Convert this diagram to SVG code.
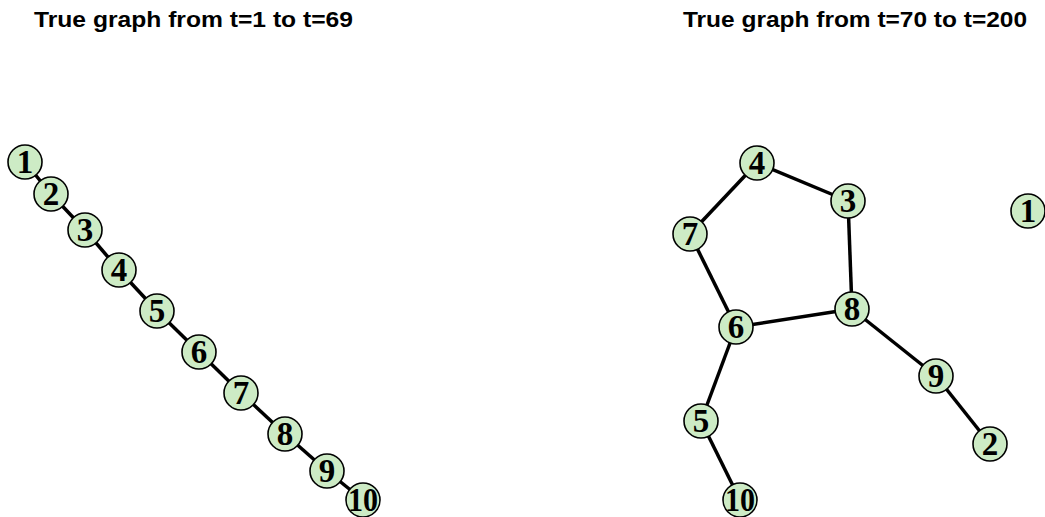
<svg xmlns="http://www.w3.org/2000/svg" width="1045" height="517" viewBox="0 0 1045 517">
<style>
.title{font-family:"Liberation Sans",Arial,sans-serif;font-weight:bold;font-size:22px;fill:#000}
.node circle{fill:#cdebc5;stroke:#000;stroke-width:1.6}
.node text{font-family:"Liberation Serif","Times New Roman",serif;font-weight:bold;font-size:33px;fill:#000;text-anchor:middle}
.edges line{stroke:#000;stroke-width:3.5}
</style>
<rect width="1045" height="517" fill="#fff"/>
<text class="title" x="34" y="27" textLength="319" lengthAdjust="spacingAndGlyphs">True graph from t=1 to t=69</text>
<text class="title" x="683" y="27" textLength="344" lengthAdjust="spacingAndGlyphs">True graph from t=70 to t=200</text>
<g class="edges" id="edges-left">
<line x1="25" y1="162" x2="51" y2="194"/>
<line x1="51" y1="194" x2="85" y2="230"/>
<line x1="85" y1="230" x2="119" y2="270"/>
<line x1="119" y1="270" x2="157" y2="311"/>
<line x1="157" y1="311" x2="199" y2="352"/>
<line x1="199" y1="352" x2="241" y2="393"/>
<line x1="241" y1="393" x2="285" y2="434"/>
<line x1="285" y1="434" x2="327" y2="471"/>
<line x1="327" y1="471" x2="363" y2="500"/>
</g>
<g class="edges" id="edges-right">
<line x1="757" y1="163" x2="848" y2="201"/>
<line x1="757" y1="163" x2="690" y2="234"/>
<line x1="690" y1="234" x2="736" y2="327"/>
<line x1="848" y1="201" x2="852" y2="309"/>
<line x1="736" y1="327" x2="852" y2="309"/>
<line x1="736" y1="327" x2="701" y2="421"/>
<line x1="701" y1="421" x2="740" y2="500"/>
<line x1="852" y1="309" x2="936" y2="376"/>
<line x1="936" y1="376" x2="990" y2="444"/>
</g>
<g class="node" id="L1"><circle cx="25" cy="162" r="17"/><text x="25" y="173">1</text></g>
<g class="node" id="L2"><circle cx="51" cy="194" r="17"/><text x="51" y="205">2</text></g>
<g class="node" id="L3"><circle cx="85" cy="230" r="17"/><text x="85" y="241">3</text></g>
<g class="node" id="L4"><circle cx="119" cy="270" r="17"/><text x="119" y="281">4</text></g>
<g class="node" id="L5"><circle cx="157" cy="311" r="17"/><text x="157" y="322">5</text></g>
<g class="node" id="L6"><circle cx="199" cy="352" r="17"/><text x="199" y="363">6</text></g>
<g class="node" id="L7"><circle cx="241" cy="393" r="17"/><text x="241" y="404">7</text></g>
<g class="node" id="L8"><circle cx="285" cy="434" r="17"/><text x="285" y="445">8</text></g>
<g class="node" id="L9"><circle cx="327" cy="471" r="17"/><text x="327" y="482">9</text></g>
<g class="node" id="L10"><circle cx="363" cy="500" r="17"/><text x="363" y="511" textLength="30" lengthAdjust="spacingAndGlyphs">10</text></g>
<g class="node" id="R1"><circle cx="1028" cy="211" r="17"/><text x="1028" y="222">1</text></g>
<g class="node" id="R2"><circle cx="990" cy="444" r="17"/><text x="990" y="455">2</text></g>
<g class="node" id="R3"><circle cx="848" cy="201" r="17"/><text x="848" y="212">3</text></g>
<g class="node" id="R4"><circle cx="757" cy="163" r="17"/><text x="757" y="174">4</text></g>
<g class="node" id="R5"><circle cx="701" cy="421" r="17"/><text x="701" y="432">5</text></g>
<g class="node" id="R6"><circle cx="736" cy="327" r="17"/><text x="736" y="338">6</text></g>
<g class="node" id="R7"><circle cx="690" cy="234" r="17"/><text x="690" y="245">7</text></g>
<g class="node" id="R8"><circle cx="852" cy="309" r="17"/><text x="852" y="320">8</text></g>
<g class="node" id="R9"><circle cx="936" cy="376" r="17"/><text x="936" y="387">9</text></g>
<g class="node" id="R10"><circle cx="740" cy="500" r="17"/><text x="740" y="511" textLength="30" lengthAdjust="spacingAndGlyphs">10</text></g>
</svg>
